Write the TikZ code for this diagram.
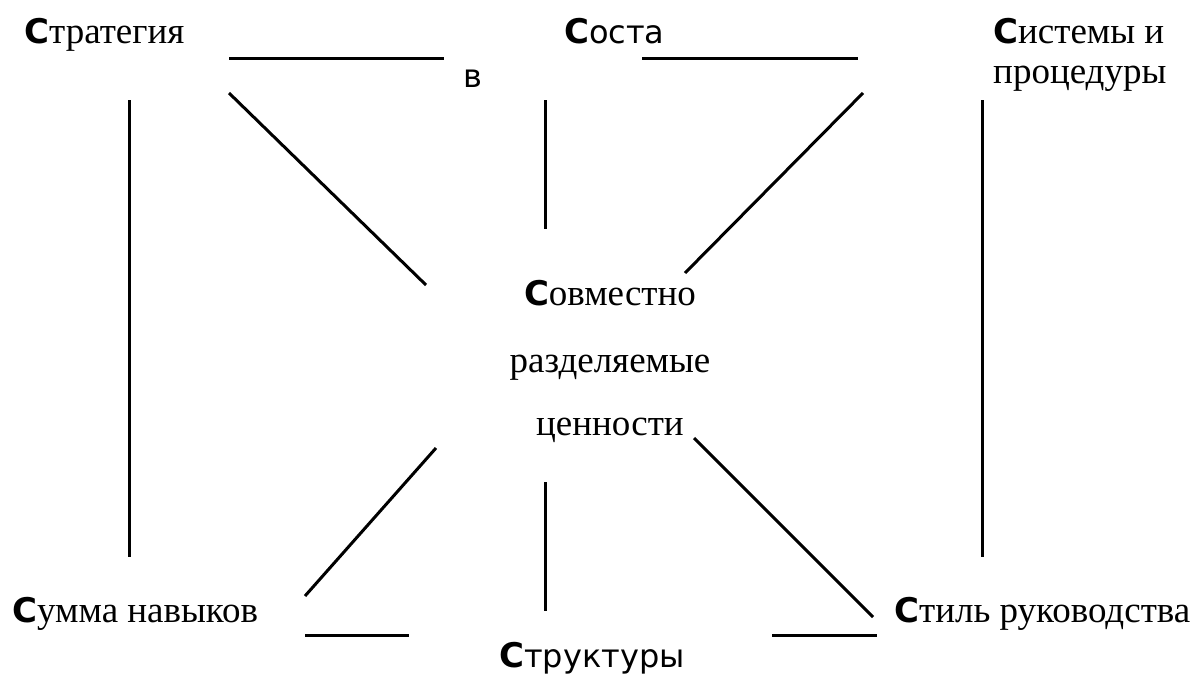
\documentclass[tikz,border=0pt]{standalone}
\usepackage{fontspec}
\setmainfont{Liberation Serif}
\newfontfamily\sansfnt{DejaVu Sans}
\newcommand{\capC}{{\sansfnt\bfseries\fontsize{34}{34}\selectfont С}}
\tikzset{
  lbl/.style={inner sep=0pt, anchor=base west, font=\fontsize{37}{37}\selectfont},
  slbl/.style={inner sep=0pt, anchor=base west, font=\sansfnt\fontsize{32}{32}\selectfont},
  clbl/.style={inner sep=0pt, anchor=base, font=\fontsize{37}{37}\selectfont},
  link/.style={line width=3pt},
}
\begin{document}
\begin{tikzpicture}[x=1pt,y=-1pt]
  \useasboundingbox (0,0) rectangle (1202,673);

  % the seven elements
  \node[lbl]  (strat) at (24,43)  {\capC тратегия};
  \node[slbl] (sost)  at (564,43) {\capC оста};
  \node[slbl] (sostv) at (463,87) {в};
  \node[lbl]  (sys1)  at (993,43) {\capC истемы и};
  \node[lbl]  (sys2)  at (993,83) {процедуры};
  \node[clbl] (val1)  at (610,305) {\capC овместно};
  \node[clbl] (val2)  at (610,372) {разделяемые};
  \node[clbl] (val3)  at (610,435) {ценности};
  \node[lbl]  (skill) at (12,622) {\capC умма навыков};
  \node[slbl] (struc) at (499,667) {\capC труктуры};
  \node[lbl]  (style) at (894,622) {\capC тиль руководства};

  % end points of the links
  \coordinate (h1a) at (229,58);  \coordinate (h1b) at (444,58);
  \coordinate (h2a) at (642,58);  \coordinate (h2b) at (858,58);
  \coordinate (vLa) at (129,100); \coordinate (vLb) at (129,557);
  \coordinate (tla) at (229,93);  \coordinate (tlb) at (426,285);
  \coordinate (cta) at (545,100); \coordinate (ctb) at (545,229);
  \coordinate (tra) at (863,93);  \coordinate (trb) at (685,273);
  \coordinate (vRa) at (982,100); \coordinate (vRb) at (982,557);
  \coordinate (bla) at (436,448); \coordinate (blb) at (305,596);
  \coordinate (cba) at (545,482); \coordinate (cbb) at (545,611);
  \coordinate (bra) at (694,438); \coordinate (brb) at (873,617);
  \coordinate (h3a) at (305,635); \coordinate (h3b) at (409,635);
  \coordinate (h4a) at (772,635); \coordinate (h4b) at (877,635);

  % links
  \draw[link] (h1a) -- (h1b);
  \draw[link] (h2a) -- (h2b);
  \draw[link] (vLa) -- (vLb);
  \draw[link] (tla) -- (tlb);
  \draw[link] (cta) -- (ctb);
  \draw[link] (tra) -- (trb);
  \draw[link] (vRa) -- (vRb);
  \draw[link] (bla) -- (blb);
  \draw[link] (cba) -- (cbb);
  \draw[link] (bra) -- (brb);
  \draw[link] (h3a) -- (h3b);
  \draw[link] (h4a) -- (h4b);
\end{tikzpicture}
\end{document}
